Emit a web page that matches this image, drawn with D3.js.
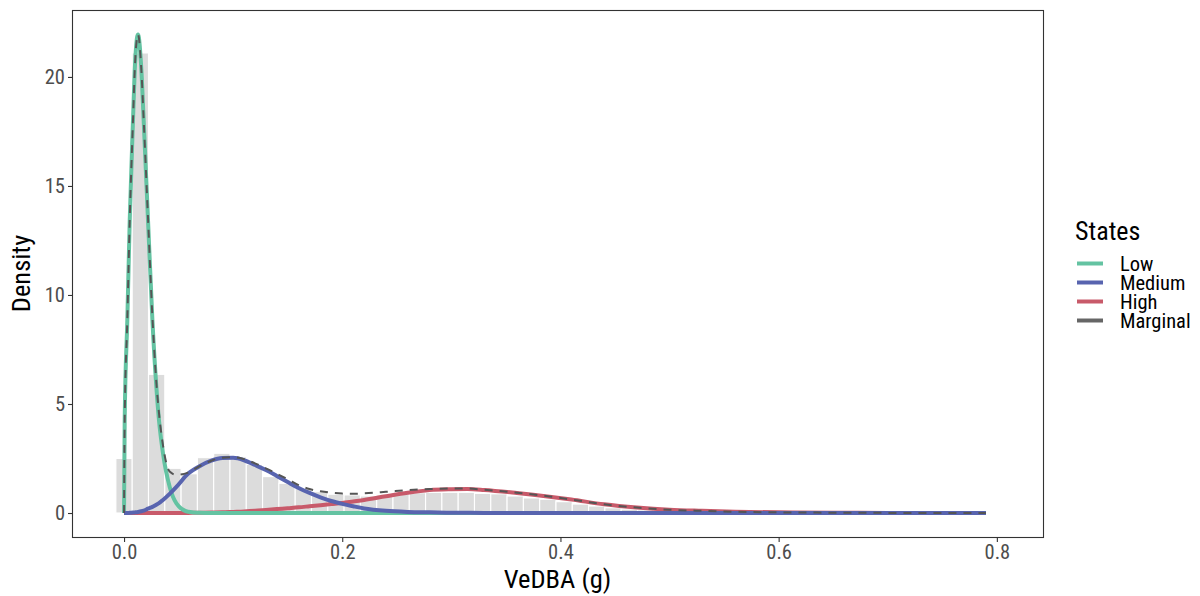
<!DOCTYPE html>
<html>
<head>
<meta charset="utf-8">
<script src="https://cdn.jsdelivr.net/npm/d3@7"></script>
<style>
  body { margin: 0; background: #fff; }
  text { font-family: "Roboto Condensed", Roboto, sans-serif; }
</style>
</head>
<body>
<svg id="chart"></svg>
<script>
// histogram of VeDBA, bins centred on 0, w, 2w ...
const binWidth = 0.01494
const histDensity = [2.5, 21.1, 6.36, 2.05, 1.8, 2.54, 2.74, 2.58, 2.23, 1.67,
  1.36, 1.13, 0.98, 0.86, 0.83, 0.78, 0.83, 0.9, 0.93, 0.95,
  0.95, 0.95, 0.9, 0.88, 0.78, 0.69, 0.63, 0.52, 0.41, 0.32,
  0.24, 0.18, 0.14, 0.1, 0.08, 0.06, 0.05, 0.04, 0.03, 0.025,
  0.02, 0.015, 0.012, 0.01, 0.008, 0.006, 0.005, 0.004, 0.003, 0.002,
  0.002, 0.001, 0.001, 0.001]

// state densities read at these VeDBA values
const vedba = [0, 0.0006, 0.003, 0.0052, 0.0082, 0.0098, 0.0128, 0.0159, 0.018, 0.022,
  0.026, 0.0296, 0.032, 0.0357, 0.0418, 0.048, 0.0586, 0.07, 0.08, 0.09,
  0.1, 0.11, 0.12, 0.13, 0.14, 0.15, 0.16, 0.17, 0.18, 0.19,
  0.2, 0.21, 0.22, 0.24, 0.26, 0.28, 0.3, 0.315, 0.33, 0.36,
  0.39, 0.41, 0.44, 0.47, 0.5, 0.53, 0.56, 0.6, 0.65, 0.7,
  0.75, 0.79]

const lowDensity = [0, 4.3, 8.85, 13.4, 18.0, 20.3, 21.95, 20.3, 18.0, 13.4,
  8.85, 5.8, 4.27, 2.74, 1.2, 0.44, 0.06, 0.01, 0, 0,
  0, 0, 0, 0, 0, 0, 0, 0, 0, 0,
  0, 0, 0, 0, 0, 0, 0, 0, 0, 0,
  0, 0, 0, 0, 0, 0, 0, 0, 0, 0,
  0, 0]

const mediumDensity = [0, 0, 0, 0.01, 0.02, 0.03, 0.05, 0.08, 0.11, 0.2,
  0.28, 0.38, 0.45, 0.6, 0.88, 1.2, 1.8, 2.17, 2.4, 2.52,
  2.53, 2.42, 2.2, 1.97, 1.7, 1.42, 1.15, 0.92, 0.72, 0.55,
  0.42, 0.31, 0.21, 0.1, 0.05, 0.03, 0.015, 0.01, 0.005, 0,
  0, 0, 0, 0, 0, 0, 0, 0, 0, 0,
  0, 0]

const highDensity = [0, 0, 0, 0, 0, 0, 0, 0, 0, 0,
  0, 0, 0, 0, 0, 0, 0.005, 0.01, 0.02, 0.03,
  0.05, 0.07, 0.1, 0.14, 0.18, 0.22, 0.26, 0.31, 0.36, 0.41,
  0.46, 0.53, 0.6, 0.77, 0.93, 1.05, 1.09, 1.1, 1.06, 0.92,
  0.75, 0.62, 0.4, 0.25, 0.15, 0.1, 0.06, 0.03, 0.015, 0.006,
  0.002, 0.001]

const marginalDensity = [0, 4.3, 8.85, 13.4, 18.0, 20.3, 21.95, 20.3, 18.05, 13.5,
  9.0, 6.0, 4.6, 3.1, 1.9, 1.75, 1.85, 2.17, 2.4, 2.53,
  2.56, 2.47, 2.28, 2.05, 1.8, 1.55, 1.28, 1.1, 1.0, 0.93,
  0.89, 0.88, 0.9, 0.97, 1.05, 1.1, 1.12, 1.12, 1.07, 0.93,
  0.76, 0.62, 0.4, 0.25, 0.15, 0.1, 0.06, 0.03, 0.015, 0.006,
  0.002, 0.001]

const states = ["Low", "Medium", "High", "Marginal"]
const stateColors = ["#64c3a2", "#5864af", "#c85a6a", "#666666"]

const xTicks = [0, 0.2, 0.4, 0.6, 0.8]
const yTicks = [0, 5, 10, 15, 20]
const xLimits = [-0.0477, 0.8423]
const yLimits = [-1.1, 23.07]

const width = 1200, height = 596
const margin = {top: 10, right: 157, bottom: 59, left: 72},
      bodyWidth = width - margin.left - margin.right,
      bodyHeight = height - margin.top - margin.bottom

const svg = d3.select("#chart")
    .attr("width", width)
    .attr("height", height)

const body = svg.append("g")
    .attr("transform", `translate(${margin.left},${margin.top})`)

const xScale = d3.scaleLinear().domain(xLimits).range([0, bodyWidth])
const yScale = d3.scaleLinear().domain(yLimits).range([bodyHeight, 0])

// histogram
body.selectAll("rect.bin")
    .data(histDensity)
    .enter().append("rect")
    .attr("class", "bin")
    .attr("x", (d, i) => xScale(i * binWidth - binWidth / 2))
    .attr("width", (d, i) => xScale(i * binWidth + binWidth / 2) - xScale(i * binWidth - binWidth / 2))
    .attr("y", d => yScale(d))
    .attr("height", d => yScale(0) - yScale(d))
    .attr("fill", "#dcdcdc")
    .attr("stroke", "#fff")
    .attr("stroke-width", 1.1)

const line = d3.line()
    .x(d => xScale(d[0]))
    .y(d => yScale(d[1]))
    .curve(d3.curveMonotoneX)

const series = {Low: lowDensity, Medium: mediumDensity, High: highDensity}

// draw order so medium sits on top along the tail
;["High", "Low", "Medium"].forEach(s => {
  body.append("path")
      .datum(vedba.map((v, i) => [v, series[s][i]]))
      .attr("d", line)
      .attr("fill", "none")
      .attr("stroke", stateColors[states.indexOf(s)])
      .attr("stroke-width", 4)
      .attr("stroke-linejoin", "round")
})

body.append("path")
    .datum(vedba.map((v, i) => [v, marginalDensity[i]]))
    .attr("d", line)
    .attr("fill", "none")
    .attr("stroke", "#555555")
    .attr("stroke-width", 2)
    .attr("stroke-dasharray", "8,7")

// panel border
body.append("rect")
    .attr("x", 0.5).attr("y", 0.5)
    .attr("width", bodyWidth).attr("height", bodyHeight)
    .attr("fill", "none")
    .attr("stroke", "#333")
    .attr("stroke-width", 1.1)

// axes
const xAxis = body.append("g")
    .attr("transform", `translate(0,${bodyHeight + 0.5})`)
    .call(d3.axisBottom(xScale).tickValues(xTicks).tickFormat(d3.format(".1f"))
      .tickSize(4.5).tickPadding(2.5))
const yAxis = body.append("g")
    .attr("transform", "translate(0.5,0)")
    .call(d3.axisLeft(yScale).tickValues(yTicks).tickSize(4.5).tickPadding(3))

;[xAxis, yAxis].forEach(a => {
  a.select(".domain").remove()
  a.selectAll(".tick line").attr("stroke", "#333").attr("stroke-width", 1.1)
  a.selectAll(".tick text")
      .attr("fill", "#4d4d4d")
      .style("font-size", "20.5px")
      .style("font-family", "\"Roboto Condensed\", Roboto, sans-serif")
})

svg.append("text")
    .attr("x", margin.left + bodyWidth / 2)
    .attr("y", 588)
    .attr("text-anchor", "middle")
    .style("font-size", "26.5px")
    .text("VeDBA (g)")

svg.append("text")
    .attr("transform", `translate(30,${margin.top + bodyHeight / 2}) rotate(-90)`)
    .attr("text-anchor", "middle")
    .style("font-size", "26.5px")
    .text("Density")

// legend
const legend = svg.append("g")
    .attr("transform", "translate(1075,0)")

legend.append("text")
    .attr("x", 0)
    .attr("y", 240)
    .style("font-size", "26px")
    .text("States")

const keys = legend.selectAll("g.key")
    .data(states)
    .enter().append("g")
    .attr("class", "key")
    .attr("transform", (d, i) => `translate(0,${263.5 + i * 19})`)

keys.append("line")
    .attr("x1", 2).attr("x2", 28)
    .attr("stroke", (d, i) => stateColors[i])
    .attr("stroke-width", 4)

keys.append("text")
    .attr("x", 45)
    .attr("dy", "0.35em")
    .style("font-size", "20.5px")
    .text(d => d)
</script>
</body>
</html>
